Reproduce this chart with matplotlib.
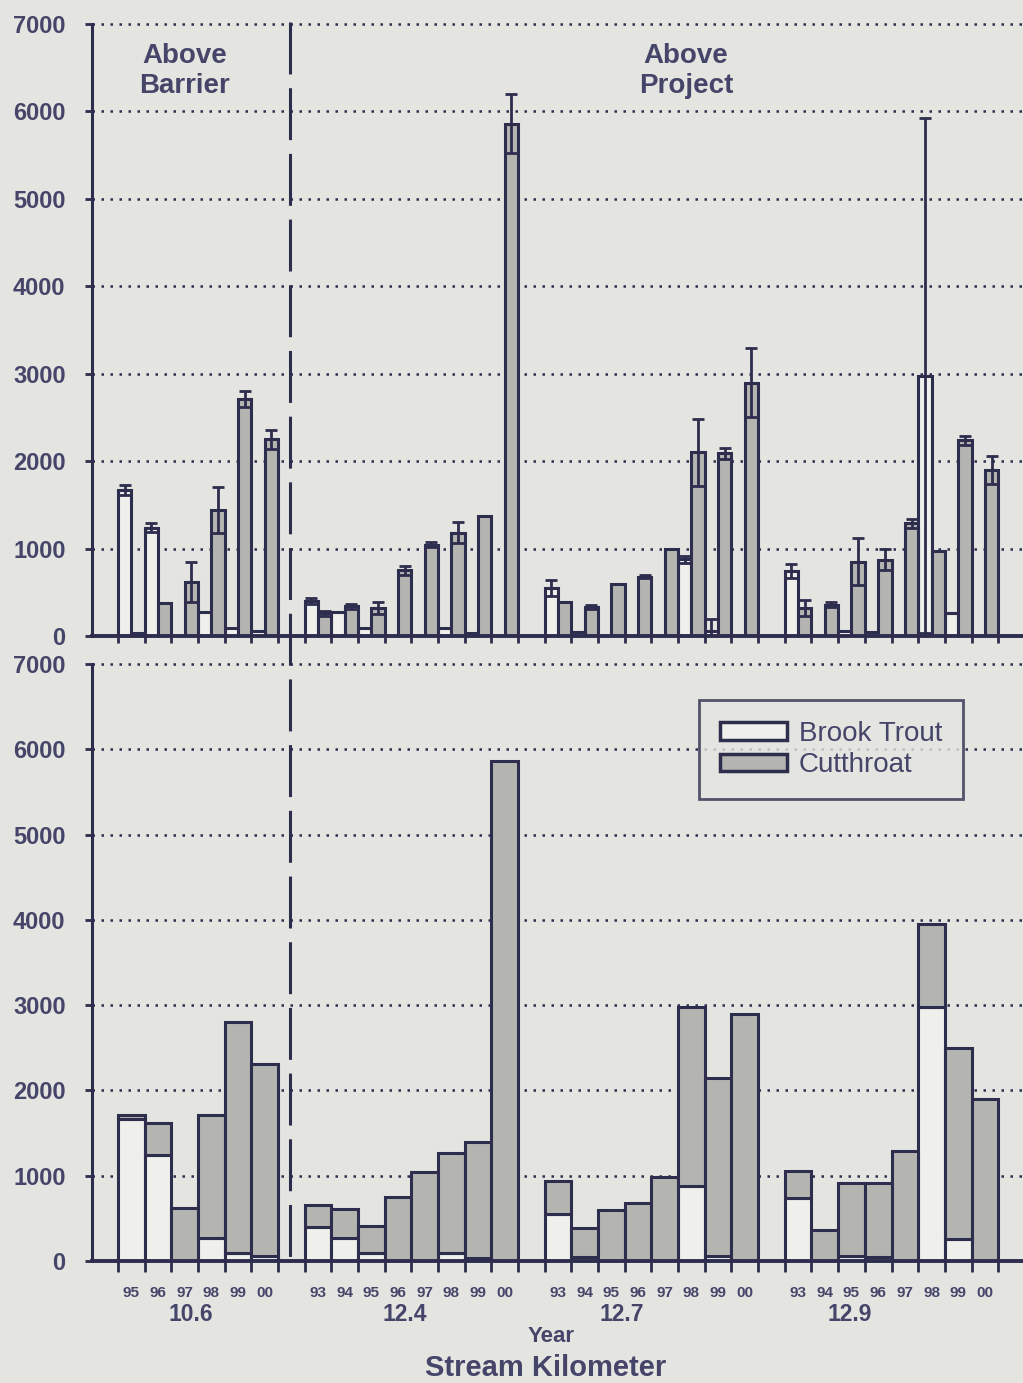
import numpy as np
import matplotlib
matplotlib.use("Agg")
import matplotlib.pyplot as plt
from matplotlib.patches import Patch
from matplotlib.lines import Line2D

plt.rcParams['font.family'] = ['Liberation Sans', 'DejaVu Sans']

# --- data: fish counts per stream kilometer and year ---
site_labels = ['10.6', '12.4', '12.7', '12.9']
site_years = [
    ['95', '96', '97', '98', '99', '00'],
    ['93', '94', '95', '96', '97', '98', '99', '00'],
    ['93', '94', '95', '96', '97', '98', '99', '00'],
    ['93', '94', '95', '96', '97', '98', '99', '00'],
]

brook = [1670, 1240, 0, 270, 90, 60,
         400, 270, 90, 0, 0, 90, 30, 0,
         550, 50, 0, 0, 0, 880, 60, 0,
         740, 0, 60, 50, 0, 2980, 260, 0]
cutthroat = [40, 380, 620, 1440, 2710, 2250,
             260, 340, 320, 750, 1045, 1180, 1370, 5860,
             390, 335, 600, 680, 990, 2100, 2090, 2900,
             320, 360, 850, 870, 1290, 970, 2240, 1900]
brook_err = [60, 50, 0, 0, 0, 0,
             30, 0, 0, 0, 0, 0, 0, 0,
             90, 0, 0, 0, 0, 40, 130, 0,
             80, 0, 0, 0, 0, 2950, 0, 0]
cut_err = [0, 0, 230, 260, 90, 110,
           30, 30, 65, 50, 25, 120, 0, 340,
           0, 25, 0, 20, 0, 380, 60, 390,
           90, 25, 270, 120, 50, 0, 50, 160]

region_labels = ['Above\nBarrier', 'Above\nProject']

# colours
BG = '#e4e4e0'
NAVY = '#2d2d4e'
TEXT = '#45456a'
GRAY = '#b4b4b1'
WHITE = '#efefec'

# slot positions: one empty slot between sites
site_offset = [0, 7, 16, 25]
x_start = []
year_lbl = []
for off, yrs in zip(site_offset, site_years):
    for i, y in enumerate(yrs):
        x_start.append(off + i)
        year_lbl.append(y)
x_start = np.array(x_start, dtype=float)
brook = np.array(brook, dtype=float)
cutthroat = np.array(cutthroat, dtype=float)
brook_err = np.array(brook_err, dtype=float)
cut_err = np.array(cut_err, dtype=float)

fig = plt.figure(figsize=(10.23, 13.83), dpi=100, facecolor=BG)
ax1 = fig.add_axes([0.0899, 0.5401, 0.9101, 0.4425], facecolor=BG)
ax2 = fig.add_axes([0.0899, 0.0882, 0.9101, 0.4317], facecolor=BG)

xlim = (-0.975, 33.93)


def style_axis(ax, tickdir):
    ax.set_xlim(*xlim)
    ax.set_ylim(0, 7000)
    for s in ['top', 'right']:
        ax.spines[s].set_visible(False)
    ax.spines['left'].set_color(NAVY)
    ax.spines['left'].set_linewidth(2.2)
    ax.spines['bottom'].set_color(NAVY)
    ax.spines['bottom'].set_linewidth(2.8)
    ax.set_yticks(np.arange(0, 7001, 1000))
    ax.tick_params(axis='y', colors=NAVY, length=5, width=2, pad=14,
                   labelsize=17, labelcolor=TEXT)
    for lbl in ax.get_yticklabels():
        lbl.set_fontweight('bold')
    ax.set_xticks(np.arange(0, 34, 1))
    ax.tick_params(axis='x', direction=tickdir, length=10 if tickdir == 'inout' else 8,
                   width=2, colors=NAVY, labelbottom=False)
    for v in range(1000, 7001, 1000):
        ax.axhline(v, color=NAVY, lw=1.8, ls=(0, (1, 2.6)), zorder=0.5, clip_on=False)


# top: side-by-side means with error bars
style_axis(ax1, 'inout')
ax1.bar(x_start, brook, width=0.5, align='edge', color=WHITE,
        edgecolor=NAVY, linewidth=2.2, zorder=2)
ax1.bar(x_start + 0.5, cutthroat, width=0.5, align='edge', color=GRAY,
        edgecolor=NAVY, linewidth=2.2, zorder=2)
m = brook_err > 0
ax1.errorbar(x_start[m] + 0.25, brook[m], yerr=brook_err[m], fmt='none',
             ecolor=NAVY, elinewidth=2, capsize=4, capthick=2, zorder=3)
m = cut_err > 0
ax1.errorbar(x_start[m] + 0.75, cutthroat[m], yerr=cut_err[m], fmt='none',
             ecolor=NAVY, elinewidth=2, capsize=4, capthick=2, zorder=3)

ax1.text(2.5, 6780, region_labels[0], ha='center', va='top', fontsize=20,
         fontweight='bold', color=TEXT, linespacing=1.2)
ax1.text(21.3, 6780, region_labels[1], ha='center', va='top', fontsize=20,
         fontweight='bold', color=TEXT, linespacing=1.2)

# bottom: stacked totals
style_axis(ax2, 'out')
ax2.bar(x_start, brook, width=1.0, align='edge', color=WHITE,
        edgecolor=NAVY, linewidth=2.2, zorder=2)
ax2.bar(x_start, cutthroat, bottom=brook, width=1.0, align='edge', color=GRAY,
        edgecolor=NAVY, linewidth=2.2, zorder=2)

for xs, y in zip(x_start, year_lbl):
    ax2.text(xs + 0.5, -0.053, y, transform=ax2.get_xaxis_transform(),
             ha='center', va='center', fontsize=11, fontweight='bold', color=TEXT)

site_x = [2.73, 10.75, 18.9, 27.45]
for sx, s in zip(site_x, site_labels):
    ax2.text(sx, -0.090, s, transform=ax2.get_xaxis_transform(),
             ha='center', va='center', fontsize=16.5, fontweight='bold', color=TEXT)

fig.text(0.5386, 1 - 1336 / 1383, 'Year', ha='center', va='center',
         fontsize=16, fontweight='bold', color=TEXT)
fig.text(0.533, 1 - 1368 / 1383, 'Stream Kilometer', ha='center', va='center',
         fontsize=21, fontweight='bold', color=TEXT)

handles = [Patch(facecolor=WHITE, edgecolor=NAVY, linewidth=2.5, label='Brook Trout'),
           Patch(facecolor=GRAY, edgecolor=NAVY, linewidth=2.5, label='Cutthroat')]
leg = ax2.legend(handles=handles, loc='upper left',
                 bbox_to_anchor=(699 / 1023, 1 - 700 / 1383),
                 bbox_transform=fig.transFigure, fontsize=20, frameon=True,
                 fancybox=False, handlelength=2.4, handleheight=0.6,
                 handletextpad=0.45, labelspacing=0.2, borderpad=0.75,
                 borderaxespad=0)
leg.get_frame().set_edgecolor(NAVY)
leg.get_frame().set_linewidth(2)
leg.get_frame().set_facecolor(BG)
for t in leg.get_texts():
    t.set_color(TEXT)

# dashed divider between the barrier reach and the project reach
divider = Line2D([290 / 1023, 290 / 1023], [1 - 22 / 1383, 1 - 1262 / 1383],
                 transform=fig.transFigure, color=NAVY, lw=2.2,
                 dashes=(17, 4.5), zorder=5)
fig.add_artist(divider)

fig.savefig('out.png', dpi=100, facecolor=BG)
